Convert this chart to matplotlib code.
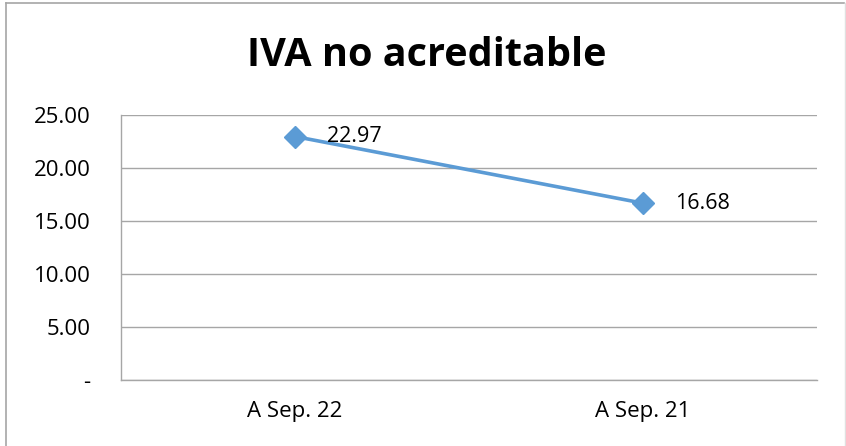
import matplotlib
matplotlib.use('Agg')
import matplotlib.pyplot as plt
from matplotlib.lines import Line2D

# data
categories = ['A Sep. 22', 'A Sep. 21']
values = [22.97, 16.68]
y_ticks = [0, 5, 10, 15, 20, 25]
y_tick_labels = ['-', '5.00', '10.00', '15.00', '20.00', '25.00']

BLUE = '#5B9BD5'
GRID = '#A6A6A6'
plt.rcParams['font.family'] = ['Open Sans', 'DejaVu Sans']

fig = plt.figure(figsize=(8.46, 4.46), dpi=100)
ax = fig.add_axes([121/846, 1 - 380/446, 696/846, 265/446])

x = list(range(len(categories)))
ax.plot(x, values, color=BLUE, lw=2.6, marker='D', ms=11, zorder=3)
for xi, v in zip(x, values):
    ax.annotate(f'{v:.2f}', (xi, v), xytext=(23, 0), textcoords='offset points',
                ha='left', va='center', fontsize=15.5, color='black')

ax.set_xlim(-0.5, len(categories) - 0.5)
ax.set_ylim(0, 25)
ax.set_yticks(y_ticks)
ax.set_yticklabels(y_tick_labels)
ax.set_xticks(x)
ax.set_xticklabels(categories)
ax.tick_params(axis='both', length=0, labelsize=16)
ax.tick_params(axis='y', pad=22)
ax.tick_params(axis='x', pad=15)
ax.grid(axis='y', color=GRID, lw=1)
ax.set_axisbelow(True)
for s in ['top', 'right']:
    ax.spines[s].set_visible(False)
for s in ['left', 'bottom']:
    ax.spines[s].set_color(GRID)
    ax.spines[s].set_linewidth(1)

fig.text(427/846, 1 - 55/446, 'IVA no acreditable', ha='center', va='center',
         fontsize=28.5, weight='bold')

# outer chart border
fig.add_artist(Line2D([6/846, 6/846], [0, 1 - 3/446], color=GRID, lw=1.2,
                      transform=fig.transFigure))
fig.add_artist(Line2D([6/846, 844/846], [1 - 3/446, 1 - 3/446], color=GRID, lw=1.2,
                      transform=fig.transFigure))
fig.add_artist(Line2D([845/846, 845/846], [0, 1 - 3/446], color='#E0E0E0', lw=1,
                      transform=fig.transFigure))

fig.savefig('out.png', dpi=100, facecolor='white')
